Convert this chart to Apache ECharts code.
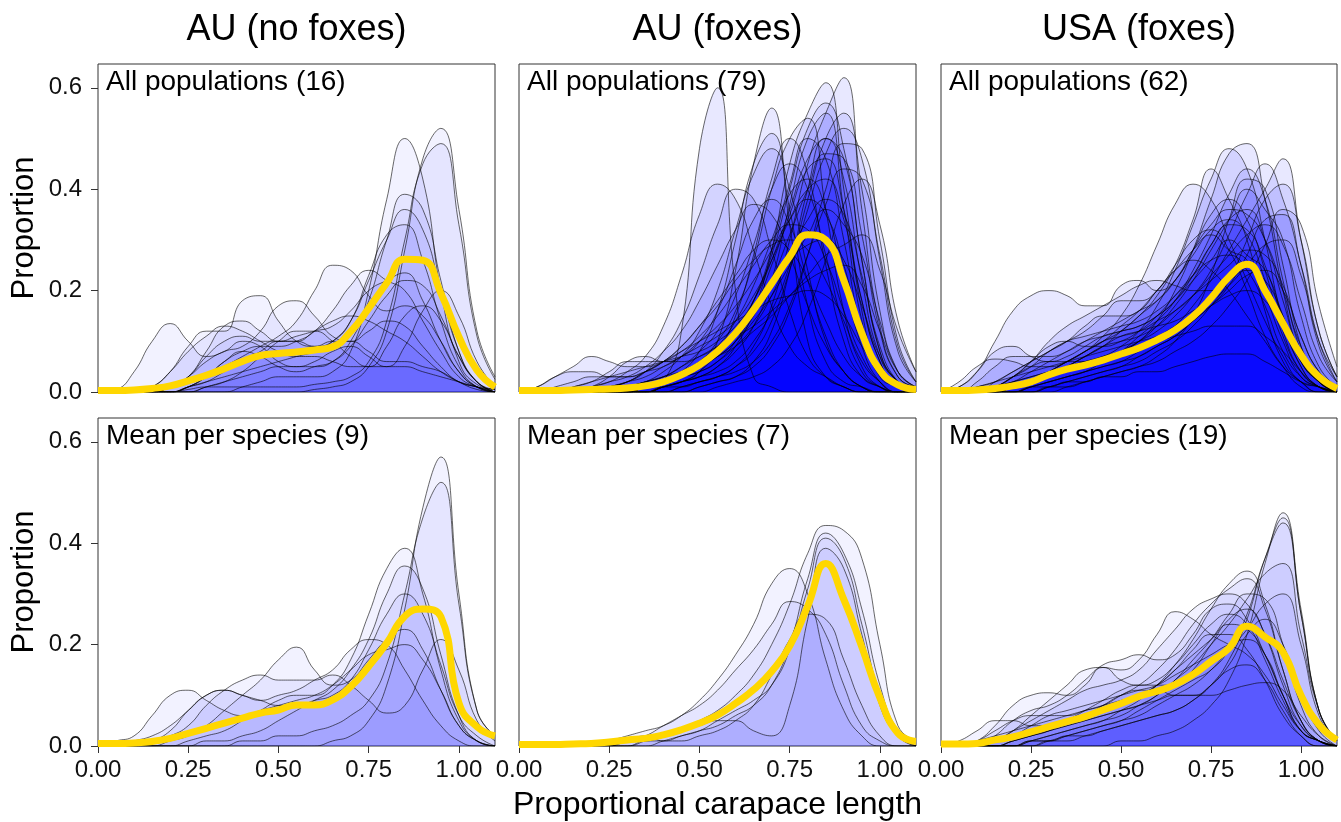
<!DOCTYPE html>
<html>
<head>
<meta charset="utf-8">
<script src="https://cdn.jsdelivr.net/npm/echarts@6/dist/echarts.min.js"></script>
<style>
  html, body { margin: 0; background: #fff; }
  #chart { width: 1341px; height: 822px; }
</style>
</head>
<body>
<div id="chart"></div>
<script>
// shared x grid (proportional carapace length)
const xs = [0, 0.05, 0.1, 0.15, 0.2, 0.25, 0.3, 0.35, 0.4, 0.45, 0.5, 0.55, 0.6, 0.65, 0.7, 0.75, 0.8, 0.85, 0.9, 0.95, 1, 1.05, 1.1]
const xTicks = [0, 0.25, 0.5, 0.75, 1]
const yTicks = [0, 0.2, 0.4, 0.6]
const colTitles = ['AU (no foxes)', 'AU (foxes)', 'USA (foxes)']
const panelLabels = ['All populations (16)', 'All populations (79)', 'All populations (62)',
  'Mean per species (9)', 'Mean per species (7)', 'Mean per species (19)']

// AU, no foxes - all populations
const auNoFoxAll = [
  [0,0,0,0,0,0,0,0,0,0,0,0,0.005,0.01,0.02,0.05,0.12,0.28,0.46,0.52,0.36,0.12,0.03],
  [0,0,0,0,0,0.005,0.01,0.01,0.01,0.01,0.01,0.01,0.015,0.02,0.03,0.06,0.14,0.3,0.45,0.49,0.33,0.11,0.025],
  [0,0,0,0,0,0,0,0,0.01,0.02,0.03,0.03,0.03,0.04,0.08,0.2,0.38,0.5,0.42,0.2,0.06,0.015,0.005],
  [0,0.005,0.04,0.1,0.135,0.1,0.07,0.08,0.1,0.09,0.06,0.05,0.06,0.08,0.09,0.07,0.05,0.05,0.04,0.03,0.02,0.01,0.005],
  [0,0,0,0.01,0.04,0.09,0.12,0.12,0.18,0.19,0.14,0.1,0.09,0.1,0.1,0.08,0.06,0.06,0.05,0.04,0.02,0.01,0],
  [0,0,0,0,0.01,0.03,0.06,0.08,0.09,0.12,0.17,0.18,0.15,0.11,0.1,0.12,0.14,0.13,0.09,0.05,0.02,0.01,0],
  [0,0,0,0,0,0.01,0.03,0.05,0.07,0.09,0.11,0.14,0.2,0.25,0.24,0.19,0.16,0.17,0.15,0.1,0.04,0.01,0],
  [0,0,0,0,0,0.01,0.03,0.06,0.08,0.09,0.09,0.1,0.12,0.16,0.21,0.24,0.22,0.2,0.14,0.08,0.03,0.01,0],
  [0,0,0,0,0,0,0.01,0.02,0.03,0.04,0.05,0.05,0.05,0.06,0.1,0.18,0.3,0.39,0.36,0.22,0.08,0.02,0.005],
  [0,0,0,0,0,0.01,0.02,0.03,0.04,0.05,0.06,0.07,0.08,0.1,0.14,0.22,0.3,0.36,0.32,0.2,0.08,0.02,0],
  [0,0,0,0,0,0.01,0.02,0.04,0.06,0.08,0.1,0.1,0.09,0.1,0.14,0.23,0.31,0.33,0.26,0.14,0.05,0.01,0],
  [0,0,0,0,0.01,0.03,0.07,0.1,0.11,0.1,0.1,0.11,0.12,0.13,0.16,0.2,0.22,0.235,0.18,0.1,0.04,0.01,0],
  [0,0,0,0,0,0.01,0.03,0.06,0.08,0.07,0.05,0.04,0.05,0.06,0.09,0.14,0.19,0.22,0.21,0.15,0.07,0.02,0],
  [0,0,0,0.01,0.04,0.08,0.11,0.13,0.12,0.1,0.08,0.07,0.07,0.06,0.05,0.05,0.09,0.15,0.17,0.14,0.07,0.02,0],
  [0,0,0,0,0,0,0.01,0.02,0.04,0.07,0.1,0.12,0.12,0.1,0.07,0.05,0.05,0.09,0.16,0.2,0.15,0.06,0.01],
  [0,0,0,0,0.01,0.03,0.08,0.13,0.14,0.12,0.1,0.1,0.12,0.14,0.15,0.14,0.12,0.1,0.07,0.04,0.02,0.005,0]
]
const auNoFoxAllMean = [0.003,0.003,0.004,0.007,0.012,0.022,0.033,0.046,0.06,0.072,0.076,0.079,0.083,0.089,0.119,0.165,0.215,0.262,0.26,0.195,0.109,0.043,0.01]

// AU, foxes - all populations
const auFoxAll = [
  [0,0,0,0,0,0,0,0,0.02,0.12,0.48,0.6,0.2,0.03,0.01,0,0,0,0,0,0,0,0],
  [0,0,0,0,0,0,0,0,0.01,0.02,0.04,0.1,0.24,0.45,0.56,0.33,0.1,0.03,0.01,0,0,0,0],
  [0,0,0,0,0,0,0,0.01,0.02,0.04,0.08,0.16,0.3,0.45,0.51,0.36,0.17,0.06,0.02,0.01,0,0,0],
  [0,0,0,0,0,0,0.01,0.02,0.04,0.07,0.12,0.2,0.32,0.43,0.48,0.4,0.24,0.1,0.04,0.01,0,0,0],
  [0,0,0,0,0,0,0,0.01,0.02,0.04,0.06,0.1,0.16,0.26,0.4,0.5,0.54,0.36,0.16,0.05,0.01,0,0],
  [0,0,0,0,0,0,0,0,0.01,0.02,0.03,0.05,0.09,0.16,0.28,0.45,0.55,0.61,0.4,0.16,0.04,0.01,0],
  [0,0,0,0,0,0,0,0,0,0.01,0.02,0.03,0.05,0.09,0.17,0.3,0.45,0.55,0.62,0.36,0.13,0.03,0.01],
  [0,0,0,0,0,0,0,0.01,0.02,0.03,0.05,0.08,0.12,0.18,0.27,0.4,0.52,0.57,0.48,0.26,0.08,0.02,0],
  [0,0,0,0,0,0,0,0,0,0.01,0.02,0.03,0.05,0.08,0.14,0.24,0.36,0.47,0.52,0.46,0.26,0.08,0.02],
  [0,0,0,0,0,0,0,0.01,0.02,0.03,0.05,0.07,0.09,0.12,0.15,0.19,0.23,0.27,0.29,0.31,0.24,0.12,0.04],
  [0,0,0,0,0.01,0.02,0.04,0.07,0.13,0.23,0.35,0.41,0.38,0.28,0.17,0.09,0.05,0.03,0.01,0,0,0,0],
  [0,0,0,0,0,0.01,0.02,0.04,0.08,0.14,0.23,0.33,0.4,0.38,0.28,0.16,0.07,0.03,0.01,0,0,0,0],
  [0,0,0,0,0.01,0.02,0.03,0.05,0.08,0.12,0.18,0.25,0.32,0.37,0.35,0.27,0.17,0.09,0.04,0.01,0,0,0],
  [0,0,0,0,0,0,0.01,0.02,0.03,0.05,0.08,0.12,0.19,0.29,0.4,0.45,0.4,0.27,0.13,0.04,0.01,0,0],
  [0,0,0,0,0,0,0,0.01,0.02,0.03,0.05,0.08,0.12,0.18,0.28,0.41,0.5,0.46,0.3,0.12,0.03,0.01,0],
  [0,0,0,0,0,0,0,0,0.01,0.02,0.03,0.05,0.08,0.13,0.22,0.37,0.5,0.55,0.36,0.14,0.04,0.01,0],
  [0,0,0,0.01,0.02,0.03,0.04,0.05,0.06,0.07,0.08,0.1,0.13,0.18,0.26,0.36,0.46,0.5,0.42,0.22,0.07,0.02,0],
  [0,0,0,0,0,0,0.01,0.02,0.03,0.04,0.05,0.07,0.1,0.15,0.22,0.31,0.4,0.47,0.46,0.31,0.12,0.03,0.01],
  [0,0,0,0,0,0,0,0,0.01,0.02,0.03,0.04,0.06,0.1,0.16,0.25,0.38,0.5,0.55,0.4,0.16,0.04,0.01],
  [0,0,0,0,0,0,0,0,0,0,0.01,0.02,0.03,0.05,0.09,0.16,0.27,0.4,0.49,0.48,0.3,0.1,0.02],
  [0,0,0.01,0.02,0.03,0.03,0.03,0.04,0.05,0.07,0.1,0.13,0.17,0.22,0.28,0.34,0.38,0.35,0.25,0.12,0.04,0.01,0],
  [0,0,0,0,0,0.01,0.02,0.03,0.05,0.07,0.09,0.11,0.14,0.19,0.26,0.34,0.4,0.42,0.34,0.18,0.06,0.01,0],
  [0,0.01,0.03,0.05,0.07,0.06,0.05,0.05,0.06,0.08,0.11,0.15,0.2,0.25,0.3,0.33,0.32,0.26,0.16,0.07,0.02,0,0],
  [0,0,0,0,0.01,0.03,0.06,0.07,0.06,0.06,0.07,0.09,0.12,0.16,0.21,0.26,0.29,0.3,0.26,0.17,0.07,0.02,0],
  [0,0,0,0,0,0,0,0.01,0.02,0.03,0.05,0.07,0.1,0.14,0.19,0.25,0.31,0.36,0.33,0.27,0.14,0.04,0.01],
  [0,0,0,0,0,0.01,0.02,0.04,0.06,0.09,0.13,0.18,0.23,0.28,0.3,0.28,0.22,0.14,0.07,0.03,0.01,0,0],
  [0,0,0,0,0,0,0.01,0.02,0.03,0.05,0.07,0.09,0.11,0.13,0.16,0.19,0.22,0.24,0.25,0.21,0.12,0.04,0.01],
  [0,0,0,0,0,0.01,0.02,0.04,0.06,0.08,0.1,0.12,0.14,0.16,0.18,0.19,0.2,0.19,0.15,0.09,0.04,0.01,0],
  [0,0,0,0,0,0,0,0,0.01,0.01,0.02,0.03,0.04,0.06,0.1,0.17,0.27,0.37,0.44,0.42,0.27,0.09,0.02],
  [0,0,0,0,0,0,0,0,0.01,0.02,0.04,0.08,0.15,0.27,0.42,0.5,0.43,0.25,0.1,0.03,0.01,0,0],
  [0,0,0,0,0,0,0,0.01,0.02,0.03,0.04,0.06,0.1,0.16,0.25,0.35,0.44,0.46,0.36,0.18,0.06,0.01,0],
  [0,0,0,0,0,0,0,0,0,0,0,0.01,0.02,0.03,0.05,0.09,0.16,0.26,0.37,0.42,0.33,0.14,0.04],
  [0,0,0,0.01,0.02,0.04,0.06,0.06,0.06,0.07,0.1,0.16,0.25,0.34,0.38,0.33,0.22,0.11,0.04,0.01,0,0,0],
  [0,0,0,0,0,0,0.01,0.01,0.02,0.03,0.04,0.06,0.09,0.13,0.19,0.27,0.34,0.38,0.35,0.23,0.09,0.02,0],
  [0,0,0,0,0,0,0,0.01,0.02,0.04,0.06,0.09,0.14,0.21,0.3,0.39,0.42,0.36,0.22,0.09,0.02,0,0],
  [0,0,0,0,0,0,0,0,0,0,0.01,0.02,0.03,0.06,0.12,0.24,0.4,0.5,0.46,0.26,0.08,0.02,0],
  [0,0.01,0.03,0.04,0.04,0.03,0.03,0.04,0.06,0.09,0.13,0.17,0.22,0.26,0.29,0.3,0.28,0.22,0.14,0.06,0.02,0,0]
]
const auFoxAllMean = [0.003,0.003,0.003,0.004,0.005,0.006,0.008,0.012,0.02,0.034,0.053,0.08,0.116,0.162,0.214,0.267,0.31,0.3,0.22,0.116,0.043,0.014,0.005]

// USA, foxes - all populations
const usaFoxAll = [
  [0,0,0,0,0.01,0.02,0.03,0.04,0.05,0.06,0.08,0.1,0.14,0.2,0.28,0.38,0.47,0.49,0.38,0.2,0.07,0.02,0],
  [0,0,0,0.01,0.02,0.03,0.04,0.05,0.06,0.07,0.09,0.12,0.17,0.24,0.33,0.42,0.48,0.44,0.3,0.14,0.05,0.01,0],
  [0,0,0,0,0,0.01,0.02,0.03,0.04,0.05,0.06,0.08,0.1,0.13,0.17,0.22,0.28,0.34,0.4,0.46,0.3,0.12,0.03],
  [0,0,0,0,0.01,0.02,0.03,0.04,0.05,0.06,0.08,0.1,0.12,0.15,0.19,0.24,0.31,0.39,0.45,0.38,0.25,0.09,0.02],
  [0,0,0,0,0.01,0.02,0.04,0.06,0.08,0.11,0.15,0.21,0.29,0.37,0.41,0.38,0.3,0.22,0.14,0.07,0.02,0.01,0],
  [0,0.01,0.04,0.1,0.16,0.19,0.2,0.19,0.17,0.17,0.21,0.22,0.2,0.22,0.28,0.33,0.36,0.35,0.3,0.2,0.09,0.03,0.01],
  [0,0,0,0,0,0,0.01,0.02,0.03,0.04,0.05,0.06,0.08,0.1,0.13,0.17,0.22,0.3,0.38,0.41,0.3,0.12,0.03],
  [0,0,0,0,0,0.01,0.02,0.03,0.04,0.06,0.08,0.11,0.14,0.18,0.24,0.31,0.39,0.44,0.38,0.22,0.08,0.02,0],
  [0,0,0,0,0.01,0.02,0.03,0.05,0.07,0.09,0.12,0.15,0.19,0.25,0.34,0.44,0.38,0.3,0.16,0.06,0.02,0,0],
  [0,0,0.02,0.05,0.07,0.07,0.07,0.08,0.1,0.12,0.14,0.16,0.18,0.22,0.28,0.35,0.38,0.34,0.24,0.12,0.04,0.01,0],
  [0,0,0,0.01,0.03,0.05,0.06,0.06,0.06,0.07,0.08,0.1,0.13,0.17,0.22,0.28,0.34,0.4,0.36,0.3,0.15,0.05,0.01],
  [0,0,0,0,0.01,0.02,0.04,0.06,0.08,0.1,0.11,0.12,0.14,0.16,0.19,0.23,0.27,0.31,0.33,0.29,0.18,0.07,0.02],
  [0,0,0,0.01,0.03,0.05,0.08,0.1,0.12,0.15,0.18,0.18,0.2,0.25,0.3,0.32,0.28,0.2,0.11,0.05,0.01,0,0],
  [0,0,0.01,0.02,0.04,0.06,0.08,0.1,0.11,0.12,0.13,0.14,0.16,0.19,0.23,0.29,0.34,0.36,0.3,0.18,0.07,0.02,0],
  [0,0,0,0.01,0.02,0.04,0.06,0.08,0.1,0.11,0.12,0.13,0.15,0.18,0.22,0.26,0.3,0.27,0.24,0.15,0.06,0.02,0],
  [0,0,0,0,0.01,0.02,0.03,0.05,0.07,0.09,0.1,0.11,0.13,0.16,0.19,0.22,0.25,0.28,0.27,0.21,0.11,0.04,0.01],
  [0,0,0.01,0.02,0.03,0.04,0.05,0.06,0.07,0.08,0.09,0.1,0.11,0.13,0.15,0.17,0.19,0.2,0.18,0.13,0.06,0.02,0],
  [0,0,0,0.01,0.02,0.03,0.04,0.05,0.06,0.07,0.08,0.09,0.1,0.11,0.12,0.13,0.13,0.13,0.11,0.08,0.04,0.01,0],
  [0,0,0,0,0,0.01,0.01,0.02,0.02,0.03,0.03,0.04,0.04,0.05,0.06,0.07,0.075,0.075,0.06,0.04,0.02,0.01,0],
  [0,0,0,0,0,0,0.01,0.02,0.03,0.04,0.05,0.07,0.09,0.11,0.14,0.17,0.21,0.27,0.34,0.35,0.25,0.1,0.02],
  [0,0.01,0.04,0.08,0.09,0.07,0.06,0.07,0.09,0.11,0.12,0.13,0.15,0.18,0.23,0.29,0.33,0.32,0.25,0.14,0.05,0.01,0],
  [0,0.02,0.05,0.065,0.06,0.05,0.05,0.06,0.08,0.1,0.13,0.16,0.2,0.24,0.28,0.31,0.28,0.26,0.19,0.1,0.03,0.01,0],
  [0,0,0,0.01,0.03,0.06,0.1,0.13,0.15,0.17,0.19,0.21,0.22,0.21,0.2,0.2,0.22,0.24,0.22,0.15,0.06,0.02,0],
  [0,0,0,0,0,0,0.01,0.01,0.02,0.03,0.04,0.05,0.07,0.1,0.15,0.23,0.34,0.42,0.4,0.25,0.09,0.02,0],
  [0,0,0,0,0.01,0.02,0.03,0.05,0.07,0.09,0.11,0.12,0.13,0.14,0.16,0.18,0.21,0.25,0.29,0.3,0.23,0.1,0.03],
  [0,0,0,0.02,0.04,0.06,0.08,0.1,0.13,0.15,0.15,0.16,0.2,0.24,0.26,0.24,0.2,0.15,0.1,0.05,0.02,0,0],
  [0,0,0,0,0.01,0.02,0.04,0.06,0.08,0.1,0.12,0.15,0.18,0.22,0.27,0.32,0.34,0.31,0.22,0.11,0.04,0.01,0],
  [0,0,0,0,0,0.01,0.02,0.03,0.04,0.05,0.06,0.07,0.09,0.11,0.14,0.17,0.2,0.23,0.24,0.2,0.11,0.04,0.01],
  [0,0,0,0.01,0.03,0.06,0.09,0.1,0.09,0.09,0.1,0.12,0.15,0.19,0.23,0.26,0.27,0.24,0.17,0.08,0.03,0.01,0],
  [0,0,0,0,0,0,0,0.01,0.02,0.03,0.04,0.05,0.06,0.08,0.1,0.13,0.17,0.22,0.29,0.36,0.33,0.17,0.05]
]
const usaFoxAllMean = [0.003,0.003,0.004,0.007,0.012,0.02,0.034,0.045,0.053,0.063,0.075,0.087,0.103,0.122,0.149,0.185,0.227,0.252,0.2,0.135,0.073,0.03,0.007]

// AU, no foxes - mean per species
const auNoFoxSpecies = [
  [0,0,0,0,0,0,0,0,0,0,0,0,0,0.01,0.02,0.05,0.12,0.27,0.47,0.57,0.3,0.07,0.02],
  [0,0,0,0,0,0,0,0,0.01,0.01,0.02,0.02,0.03,0.04,0.06,0.09,0.16,0.3,0.45,0.52,0.28,0.07,0.02],
  [0,0,0,0,0,0.01,0.02,0.03,0.05,0.07,0.09,0.1,0.1,0.12,0.17,0.26,0.35,0.39,0.3,0.15,0.05,0.01,0],
  [0,0,0,0,0,0,0.01,0.01,0.02,0.03,0.05,0.07,0.09,0.11,0.15,0.21,0.3,0.355,0.31,0.18,0.06,0.01,0],
  [0,0,0.01,0.02,0.04,0.07,0.1,0.11,0.1,0.09,0.08,0.08,0.09,0.1,0.13,0.19,0.26,0.3,0.26,0.16,0.06,0.02,0],
  [0,0,0,0,0.01,0.02,0.04,0.07,0.1,0.13,0.17,0.195,0.15,0.12,0.13,0.17,0.21,0.23,0.19,0.11,0.04,0.01,0],
  [0,0.01,0.02,0.06,0.1,0.11,0.09,0.07,0.06,0.07,0.08,0.09,0.1,0.12,0.15,0.18,0.19,0.2,0.17,0.11,0.04,0.01,0],
  [0,0,0,0.01,0.02,0.04,0.08,0.11,0.13,0.14,0.13,0.13,0.13,0.14,0.12,0.09,0.065,0.08,0.15,0.21,0.15,0.05,0.01],
  [0,0,0,0.01,0.03,0.07,0.1,0.11,0.1,0.09,0.1,0.11,0.13,0.15,0.19,0.21,0.2,0.15,0.09,0.04,0.01,0,0]
]
const auNoFoxSpeciesMean = [0.005,0.005,0.006,0.009,0.015,0.025,0.035,0.045,0.055,0.065,0.071,0.081,0.081,0.091,0.117,0.157,0.203,0.256,0.27,0.255,0.085,0.038,0.02]

// AU, foxes - mean per species
const auFoxSpecies = [
  [0,0,0,0,0,0,0.01,0.01,0.02,0.03,0.05,0.07,0.1,0.14,0.2,0.28,0.38,0.435,0.425,0.37,0.2,0.04,0.01],
  [0,0,0,0,0,0,0,0.01,0.01,0.02,0.03,0.04,0.06,0.08,0.12,0.2,0.33,0.42,0.38,0.27,0.12,0.03,0],
  [0,0,0,0,0,0,0,0,0.01,0.02,0.03,0.05,0.07,0.09,0.12,0.19,0.31,0.41,0.37,0.24,0.1,0.02,0],
  [0,0,0,0,0,0,0,0.01,0.02,0.03,0.04,0.05,0.05,0.03,0.02,0.08,0.25,0.39,0.35,0.22,0.08,0.02,0],
  [0,0,0,0,0,0.01,0.02,0.03,0.04,0.06,0.09,0.13,0.18,0.24,0.32,0.35,0.3,0.17,0.07,0.02,0,0,0],
  [0,0,0,0,0,0.01,0.01,0.02,0.04,0.06,0.08,0.11,0.15,0.19,0.24,0.285,0.27,0.22,0.12,0.04,0.01,0,0],
  [0,0,0,0,0,0,0.01,0.02,0.01,0.01,0.02,0.03,0.05,0.08,0.14,0.21,0.26,0.25,0.17,0.08,0.02,0,0]
]
const auFoxSpeciesMean = [0.003,0.003,0.003,0.004,0.005,0.008,0.012,0.015,0.022,0.032,0.045,0.061,0.084,0.111,0.147,0.197,0.276,0.36,0.289,0.195,0.095,0.025,0.009]

// USA, foxes - mean per species
const usaFoxSpecies = [
  [0,0,0,0,0,0,0,0,0,0,0.01,0.01,0.02,0.03,0.05,0.08,0.13,0.22,0.36,0.46,0.27,0.07,0.01],
  [0,0,0,0,0,0,0.01,0.01,0.02,0.03,0.04,0.05,0.06,0.07,0.09,0.12,0.17,0.25,0.37,0.45,0.26,0.07,0.01],
  [0,0,0,0,0,0.01,0.01,0.02,0.03,0.04,0.05,0.07,0.09,0.11,0.13,0.15,0.19,0.26,0.37,0.44,0.26,0.07,0.01],
  [0,0,0,0,0,0.01,0.02,0.03,0.04,0.05,0.06,0.08,0.1,0.13,0.16,0.2,0.24,0.29,0.34,0.36,0.22,0.07,0.01],
  [0,0,0,0,0,0.01,0.02,0.03,0.04,0.05,0.07,0.09,0.12,0.16,0.21,0.27,0.32,0.345,0.28,0.15,0.05,0.01,0],
  [0,0,0.01,0.02,0.03,0.04,0.05,0.06,0.07,0.08,0.1,0.12,0.15,0.19,0.24,0.28,0.31,0.33,0.27,0.15,0.05,0.01,0],
  [0,0,0.01,0.04,0.08,0.1,0.105,0.1,0.12,0.155,0.15,0.17,0.22,0.265,0.25,0.22,0.2,0.18,0.14,0.08,0.03,0.01,0],
  [0,0,0,0.01,0.03,0.05,0.07,0.09,0.11,0.12,0.13,0.15,0.19,0.23,0.27,0.29,0.3,0.28,0.22,0.12,0.04,0.01,0],
  [0,0,0,0.02,0.05,0.07,0.08,0.1,0.13,0.16,0.17,0.18,0.17,0.18,0.22,0.27,0.28,0.25,0.18,0.1,0.03,0.01,0],
  [0,0,0,0.01,0.03,0.06,0.09,0.12,0.15,0.155,0.13,0.12,0.13,0.16,0.2,0.24,0.26,0.24,0.17,0.09,0.03,0.01,0],
  [0,0,0,0.01,0.02,0.04,0.06,0.07,0.08,0.09,0.1,0.11,0.12,0.14,0.16,0.18,0.2,0.21,0.18,0.1,0.03,0.01,0],
  [0,0,0,0,0.01,0.02,0.03,0.04,0.05,0.06,0.07,0.08,0.09,0.1,0.1,0.1,0.11,0.12,0.125,0.11,0.06,0.02,0],
  [0,0,0,0,0,0.01,0.01,0.02,0.02,0.03,0.04,0.05,0.06,0.07,0.09,0.12,0.15,0.16,0.13,0.07,0.02,0,0],
  [0,0,0.01,0.03,0.05,0.06,0.06,0.06,0.07,0.08,0.09,0.1,0.12,0.15,0.19,0.22,0.22,0.19,0.13,0.06,0.02,0,0],
  [0,0,0,0,0.01,0.02,0.03,0.04,0.05,0.06,0.07,0.08,0.1,0.13,0.17,0.21,0.26,0.3,0.29,0.2,0.08,0.02,0],
  [0,0,0,0.01,0.02,0.03,0.04,0.05,0.06,0.08,0.1,0.11,0.11,0.1,0.1,0.12,0.16,0.22,0.25,0.2,0.1,0.03,0],
  [0,0,0,0,0.01,0.02,0.03,0.05,0.07,0.09,0.11,0.12,0.12,0.12,0.15,0.2,0.25,0.27,0.22,0.13,0.05,0.01,0],
  [0,0.01,0.03,0.05,0.05,0.04,0.04,0.05,0.06,0.07,0.08,0.1,0.12,0.15,0.18,0.21,0.24,0.23,0.18,0.1,0.04,0.01,0],
  [0,0,0,0,0,0,0.01,0.02,0.03,0.04,0.05,0.06,0.08,0.1,0.12,0.15,0.19,0.23,0.28,0.3,0.2,0.06,0.01]
]
const usaFoxSpeciesMean = [0.004,0.004,0.005,0.012,0.018,0.028,0.038,0.048,0.058,0.071,0.084,0.098,0.108,0.121,0.141,0.167,0.193,0.236,0.215,0.185,0.1,0.042,0.012]

const FONT = '"Liberation Sans", Arial, Helvetica, sans-serif'
const colLeft = [98, 519, 941]
const colWidth = [397, 397, 396]
const rowTop = [64, 418]
const panelHeight = 328

const panels = [
  { curves: auNoFoxAll, mean: auNoFoxAllMean, alpha: 0.05 },
  { curves: auFoxAll, mean: auFoxAllMean, alpha: 0.09 },
  { curves: usaFoxAll, mean: usaFoxAllMean, alpha: 0.09 },
  { curves: auNoFoxSpecies, mean: auNoFoxSpeciesMean, alpha: 0.05 },
  { curves: auFoxSpecies, mean: auFoxSpeciesMean, alpha: 0.05 },
  { curves: usaFoxSpecies, mean: usaFoxSpeciesMean, alpha: 0.05 },
]

const toPoints = (ys) => xs.map((x, k) => [x, ys[k]])

const grid = []
const xAxis = []
const yAxis = []
const series = []
const graphic = []

panels.forEach((p, i) => {
  const row = Math.floor(i / 3)
  const col = i % 3
  grid.push({
    left: colLeft[col], top: rowTop[row], width: colWidth[col], height: panelHeight,
    show: true, borderColor: '#333', borderWidth: 1, backgroundColor: 'transparent',
  })
  xAxis.push({
    gridIndex: i, type: 'value', min: 0, max: 1.1,
    axisLine: { show: false },
    splitLine: { show: false },
    axisTick: { show: row === 1, length: 7, lineStyle: { color: '#333' }, customValues: xTicks },
    axisLabel: {
      show: row === 1, customValues: xTicks, margin: 12,
      formatter: (v) => v.toFixed(2), fontSize: 24, fontFamily: FONT, color: '#111',
    },
  })
  yAxis.push({
    gridIndex: i, type: 'value', min: 0, max: 0.647,
    axisLine: { show: false },
    splitLine: { show: false },
    axisTick: { show: col === 0, length: 7, lineStyle: { color: '#333' }, customValues: yTicks },
    axisLabel: {
      show: col === 0, customValues: yTicks, margin: 16,
      formatter: (v) => v.toFixed(1), fontSize: 24, fontFamily: FONT, color: '#111',
    },
  })
  p.curves.forEach((c) => {
    series.push({
      type: 'line', xAxisIndex: i, yAxisIndex: i, data: toPoints(c),
      smooth: 0.5, symbol: 'none', silent: true, z: 2,
      lineStyle: { color: '#000', width: 0.7, opacity: 0.85 },
      areaStyle: { color: '#0000ff', opacity: p.alpha },
    })
  })
  series.push({
    type: 'line', xAxisIndex: i, yAxisIndex: i, data: toPoints(p.mean),
    smooth: 0.5, symbol: 'none', silent: true, z: 5,
    lineStyle: { color: '#ffd700', width: 7 },
  })
  graphic.push({
    type: 'text', x: colLeft[col] + 8, y: rowTop[row] + 18, z: 20,
    style: { text: panelLabels[i], fontSize: 28, fontFamily: FONT, fill: '#000', align: 'left', verticalAlign: 'middle' },
  })
})

colTitles.forEach((t, c) => {
  graphic.push({
    type: 'text', x: colLeft[c] + colWidth[c] / 2, y: 30, z: 20,
    style: { text: t, fontSize: 36, fontFamily: FONT, fill: '#000', align: 'center', verticalAlign: 'middle' },
  })
})
rowTop.forEach((top) => {
  graphic.push({
    type: 'text', x: 24, y: top + panelHeight / 2, rotation: Math.PI / 2, z: 20,
    style: { text: 'Proportion', fontSize: 31, fontFamily: FONT, fill: '#000', align: 'center', verticalAlign: 'middle' },
  })
})
graphic.push({
  type: 'text', x: colLeft[1] + colWidth[1] / 2, y: 805, z: 20,
  style: { text: 'Proportional carapace length', fontSize: 32, fontFamily: FONT, fill: '#000', align: 'center', verticalAlign: 'middle' },
})

const chart = echarts.init(document.getElementById('chart'), null, { renderer: 'canvas' })
chart.setOption({
  animation: false,
  backgroundColor: '#fff',
  grid, xAxis, yAxis, series, graphic,
})
</script>
</body>
</html>
